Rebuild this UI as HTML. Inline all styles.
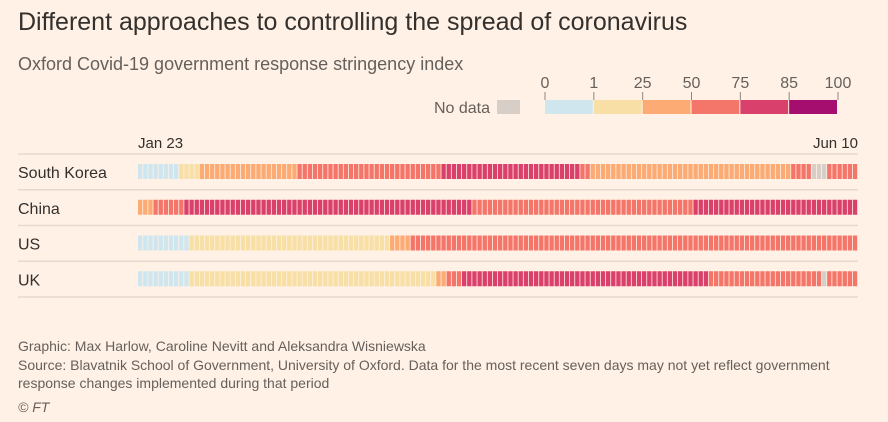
<!DOCTYPE html>
<html><head><meta charset="utf-8"><style>
body{margin:0;background:#fff1e5;font-family:"Liberation Sans",sans-serif;}
#w{position:relative;width:888px;height:422px;overflow:hidden;}
.t{position:absolute;white-space:nowrap;}
</style></head><body><div id="w">
<div class="t" style="left:18px;top:8px;font-size:25px;color:#33302e;">Different approaches to controlling the spread of coronavirus</div>
<div class="t" style="left:18px;top:54px;font-size:18px;color:#66605c;">Oxford Covid-19 government response stringency index</div>
<svg id="s" width="888" height="422" style="position:absolute;left:0;top:0"></svg>
<div class="t" style="left:18px;top:337px;font-size:14px;color:#66605c;line-height:18.5px;">Graphic: Max Harlow, Caroline Nevitt and Aleksandra Wisniewska<br>Source: Blavatnik School of Government, University of Oxford. Data for the most recent seven days may not yet reflect government<br>response changes implemented during that period</div>
<div class="t" style="left:18px;top:399px;font-size:14px;color:#66605c;font-style:italic;">© FT</div>
</div>
<script>
const countries=["South Korea","China","US","UK"];
// run-length encoded daily stringency values (Jan 23 – Jun 10, 140 days); null = no data
const runValues=[
 [0.5,15,40,65,80,65,40,65,null,65],
 [40,65,80,65,80],
 [0.5,15,40,65],
 [0.5,15,40,65,80,65,null,65]
];
const runLengths=[
 [8,4,19,28,27,2,39,4,3,6],
 [3,6,56,43,32],
 [10,39,4,87],
 [10,48,2,3,48,22,1,6]
];
const legendTicks=[0,1,25,50,75,85,100];
const dateLabels=["Jan 23","Jun 10"];
const nDays=140;
const colors=["#cfe6ef","#f7dfa6","#fcab74","#f4766a","#d9406b","#a50d6e"];
function colorOf(v){if(v===null)return"#d7cfc7";for(let i=legendTicks.length-2;i>=0;i--){if(v>=legendTicks[i])return colors[i];}return colors[0];}
const NS="http://www.w3.org/2000/svg",s=document.getElementById("s");
function el(t,a,txt){const e=document.createElementNS(NS,t);for(const k in a)e.setAttribute(k,a[k]);if(txt!==undefined)e.textContent=txt;s.appendChild(e);return e;}
const x0=138,x1=858,cw=(x1-x0)/nDays;
const xDay=d=>x0+d*cw;
const rowTop=154,rowH=35.75;
// legend
const lx0=545,lx1=838,lw=(lx1-lx0)/(legendTicks.length-1);
legendTicks.forEach((t,i)=>{
 const x=lx0+i*lw;
 const tx=el("text",{x:x,y:88,"font-size":16,fill:"#66605c","text-anchor":"middle","font-family":"Liberation Sans"},t);
 
 
 const ln=el("line",{x1:x,x2:x,y1:92,y2:100,stroke:"#8e8680","stroke-width":1});
 
 
 if(i<legendTicks.length-1){
  const r=el("rect",{x:x,y:100,width:lw-1,height:14,fill:colors[i]});
  
  
 }
});
const nl=el("text",{x:490,y:113,"font-size":16,fill:"#66605c","text-anchor":"end","font-family":"Liberation Sans"},"No data");


const nr=el("rect",{x:497,y:100,width:23,height:14,fill:"#d7cfc7"});


// date labels
const d1=el("text",{x:x0,y:148,"font-size":15,fill:"#33302e","font-family":"Liberation Sans"},dateLabels[0]);


const d2=el("text",{x:x1,y:148,"font-size":15,fill:"#33302e","text-anchor":"end","font-family":"Liberation Sans"},dateLabels[1]);


// rows
countries.forEach((c,ri)=>{
 const yT=rowTop+ri*rowH;
 const l=el("line",{x1:18,x2:858,y1:yT,y2:yT,stroke:"#e6d9ce","stroke-width":1.5});
 
 
 const lb=el("text",{x:18,y:yT+24,"font-size":16,fill:"#33302e","font-family":"Liberation Sans"},c);
 
 
 let d=0;
 runValues[ri].forEach((v,k)=>{
  for(let j=0;j<runLengths[ri][k];j++,d++){
   const r=el("rect",{x:xDay(d),y:yT+10,width:cw-0.8,height:15,fill:colorOf(v)});
   
   
  }
 });
});
const lb=el("line",{x1:18,x2:858,y1:rowTop+4*rowH,y2:rowTop+4*rowH,stroke:"#e6d9ce","stroke-width":1.5});


</script></body></html>
